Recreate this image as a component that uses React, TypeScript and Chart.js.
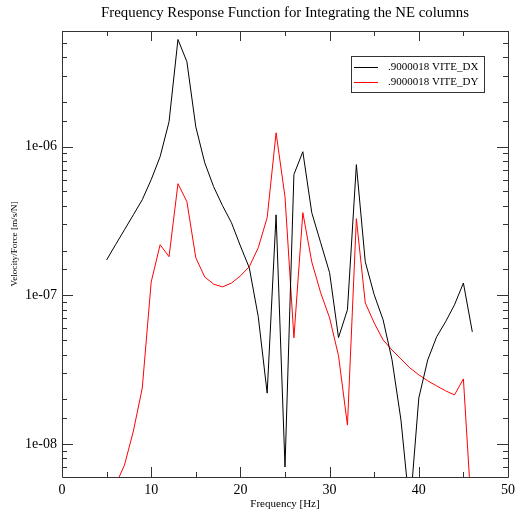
import React, { useEffect, useRef } from "react";
import { Chart, registerables } from "chart.js";

Chart.register(...registerables);

const TITLE = "Frequency Response Function for Integrating the NE columns";
const X_TITLE = "Frequency [Hz]";
const Y_TITLE = "Velocity/Force [m/s/N]";
const SERIES_LABELS = [".9000018 VITE_DX", ".9000018 VITE_DY"];
const SERIES_COLORS = ["#000000", "#ff0000"];

const freq = [5, 6, 7, 8, 9, 10, 11, 12, 13, 14, 15, 16, 17, 18, 19, 20, 21, 22, 23, 24, 25,
  26, 27, 28, 29, 30, 31, 32, 33, 34, 35, 36, 37, 38, 39, 40, 41, 42, 43, 44, 45, 46];

const dxValues = [1.73e-7, 2.19e-7, 2.76e-7, 3.48e-7, 4.4e-7, 6.0e-7, 8.57e-7, 1.47e-6, 5.26e-6,
  3.73e-6, 1.36e-6, 7.8e-7, 5.38e-7, 4.01e-7, 3.08e-7, 2.15e-7, 1.53e-7, 7.2e-8, 2.2e-8, 3.48e-7,
  7.0e-9, 6.5e-7, 9.25e-7, 3.6e-7, 2.26e-7, 1.42e-7, 5.2e-8, 8.0e-8, 7.57e-7, 1.68e-7, 1.01e-7,
  6.84e-8, 3.68e-8, 1.45e-8, 3.6e-9, 2.04e-8, 3.68e-8, 5.26e-8, 6.64e-8, 8.63e-8, 1.21e-7, 5.68e-8];

const dyValues = [3.0e-9, 5.3e-9, 7.2e-9, 1.22e-8, 2.38e-8, 1.23e-7, 2.19e-7, 1.82e-7, 5.64e-7,
  4.27e-7, 1.79e-7, 1.33e-7, 1.19e-7, 1.14e-7, 1.21e-7, 1.35e-7, 1.56e-7, 2.09e-7, 3.33e-7, 1.24e-6,
  4.6e-7, 5.18e-8, 3.6e-7, 1.68e-7, 1.04e-7, 7.05e-8, 3.92e-8, 1.34e-8, 3.28e-7, 8.9e-8, 6.53e-8,
  5.01e-8, 4.29e-8, 3.73e-8, 3.25e-8, 2.92e-8, 2.66e-8, 2.46e-8, 2.28e-8, 2.14e-8, 2.74e-8, 2.85e-9];

const X_MIN = 0;
const X_MAX = 50;
const X_STEP = 5;
const Y_MIN = 6e-9;
const Y_MAX = 6e-6;

const SERIF = "'Liberation Serif', 'DejaVu Serif', serif";

function isDecade(v: number) {
  const l = Math.log10(v);
  return Math.abs(l - Math.round(l)) < 1e-6;
}
function decadeLabel(v: number) {
  const e = Math.round(Math.log10(v));
  const s = e < 0 ? "-" : "+";
  return `1e${s}${String(Math.abs(e)).padStart(2, "0")}`;
}

const framePlugin = {
  id: "frame",
  afterDatasetsDraw(chart: any) {
    const { ctx, chartArea } = chart;
    const { left, right, top, bottom } = chartArea;
    const xs = chart.scales.x;
    const ys = chart.scales.y;
    ctx.save();
    ctx.strokeStyle = "#333";
    ctx.lineWidth = 1;
    ctx.beginPath();
    ctx.rect(Math.round(left) + 0.5, Math.round(top) + 0.5, Math.round(right - left), Math.round(bottom - top));
    ctx.stroke();
    ctx.beginPath();
    xs.ticks.forEach((t: any) => {
      const px = Math.round(xs.getPixelForValue(t.value)) + 0.5;
      const len = t.value % 10 === 0 ? 10 : 5;
      ctx.moveTo(px, bottom);
      ctx.lineTo(px, bottom - len);
      ctx.moveTo(px, top);
      ctx.lineTo(px, top + len);
    });
    ys.ticks.forEach((t: any) => {
      const py = Math.round(ys.getPixelForValue(t.value)) + 0.5;
      if (py < top + 1 || py > bottom - 1) return;
      const len = isDecade(t.value) ? 11 : 5;
      ctx.moveTo(left, py);
      ctx.lineTo(left + len, py);
      ctx.moveTo(right, py);
      ctx.lineTo(right - len, py);
    });
    ctx.stroke();

    // titles
    ctx.fillStyle = "#000";
    ctx.textAlign = "center";
    ctx.textBaseline = "alphabetic";
    ctx.font = `14.8px ${SERIF}`;
    ctx.fillText(TITLE, (left + right) / 2, 17);
    ctx.font = `11px ${SERIF}`;
    ctx.fillText(X_TITLE, (left + right) / 2, 507);
    ctx.save();
    ctx.translate(17, 244);
    ctx.rotate(-Math.PI / 2);
    ctx.font = `9.2px ${SERIF}`;
    ctx.fillText(Y_TITLE, 0, 0);
    ctx.restore();

    // legend
    const lx = 351, ly = 56, lw = 133, lh = 36;
    ctx.fillStyle = "#fff";
    ctx.fillRect(lx, ly, lw, lh);
    ctx.strokeStyle = "#333";
    ctx.strokeRect(lx + 0.5, ly + 0.5, lw, lh);
    ctx.font = `11px ${SERIF}`;
    ctx.textAlign = "left";
    ctx.textBaseline = "middle";
    chart.data.datasets.forEach((ds: any, i: number) => {
      const yy = ly + 10.5 + i * 15.5;
      ctx.strokeStyle = ds.borderColor;
      ctx.beginPath();
      ctx.moveTo(lx + 3, Math.round(yy) + 0.5);
      ctx.lineTo(lx + 27, Math.round(yy) + 0.5);
      ctx.stroke();
      ctx.fillStyle = "#000";
      ctx.fillText(ds.label, lx + 37, yy + 0.5);
    });
    ctx.restore();
  },
};

export default function App() {
  const ref = useRef<HTMLCanvasElement>(null);
  useEffect(() => {
    if (!ref.current) return;
    const series = [dxValues, dyValues];
    const chart = new Chart(ref.current, {
      type: "line",
      data: {
        datasets: series.map((vals, i) => ({
          label: SERIES_LABELS[i],
          data: freq.map((f, j) => ({ x: f, y: vals[j] })),
          borderColor: SERIES_COLORS[i],
          backgroundColor: SERIES_COLORS[i],
          borderWidth: 1,
          pointRadius: 0,
          tension: 0,
          fill: false,
        })),
      },
      options: {
        responsive: false,
        devicePixelRatio: 1,
        animation: false,
        layout: { padding: { top: 31, right: 8, left: 0, bottom: 0 } },
        plugins: { legend: { display: false }, tooltip: { enabled: false }, title: { display: false } },
        scales: {
          x: {
            type: "linear",
            min: X_MIN,
            max: X_MAX,
            grid: { display: false, drawTicks: false },
            border: { display: false },
            ticks: {
              stepSize: X_STEP,
              autoSkip: false,
              maxRotation: 0,
              padding: 5,
              color: "#000",
              font: { family: SERIF, size: 14 },
              callback: (v: any) => (Number(v) % 10 === 0 ? String(v) : ""),
            },
            afterFit: (s: any) => { s.height = 37; s.paddingLeft = 0; s.paddingRight = 0; },
          },
          y: {
            type: "logarithmic",
            min: Y_MIN,
            max: Y_MAX,
            grid: { display: false, drawTicks: false },
            border: { display: false },
            ticks: {
              autoSkip: false,
              padding: 5,
              color: "#000",
              font: { family: SERIF, size: 14 },
              callback: (v: any) => (isDecade(Number(v)) ? decadeLabel(Number(v)) : ""),
            },
            afterFit: (s: any) => { s.width = 62; s.paddingTop = 0; s.paddingBottom = 0; },
          },
        },
      },
      plugins: [framePlugin],
    });
    return () => chart.destroy();
  }, []);
  return (
    <div style={{ position: "absolute", left: 0, top: 0, width: 516, height: 514, background: "#fff" }}>
      <canvas ref={ref} width={516} height={514} />
    </div>
  );
}
